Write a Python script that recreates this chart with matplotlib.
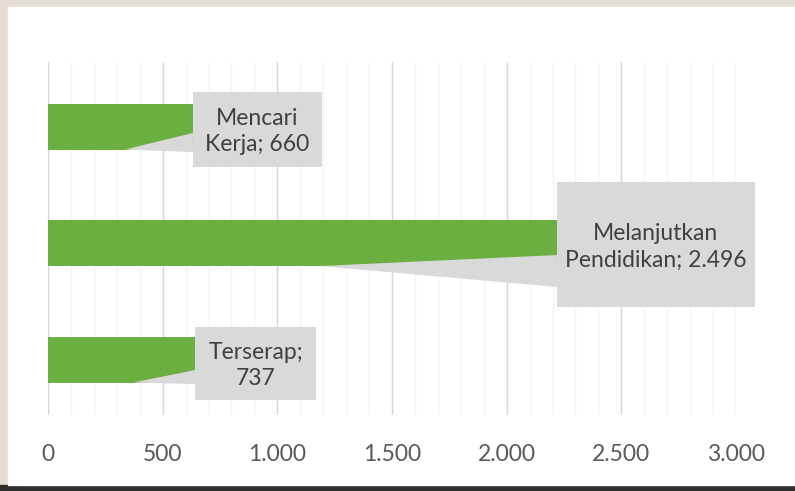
import matplotlib
matplotlib.use("Agg")
import matplotlib.pyplot as plt
from matplotlib.patches import Rectangle, Polygon
from matplotlib.ticker import MultipleLocator, FuncFormatter

# --- data -------------------------------------------------------------
categories = ["Terserap", "Melanjutkan Pendidikan", "Mencari Kerja"]
values = [737, 2496, 660]
label_texts = ["Terserap;\n737", "Melanjutkan\nPendidikan; 2.496", "Mencari\nKerja; 660"]
x_ticks = [0, 500, 1000, 1500, 2000, 2500, 3000]

# callout layout (data coords): box x0, x1, y0, y1 ; wedge tip x ; wedge base y-top, y-bottom
box_x0 = [641, 2219, 632]
box_x1 = [1169, 3083, 1195]
box_y0 = [-0.347, 0.451, 1.653]
box_y1 = [0.279, 1.524, 2.297]
tip_x = [371, 1186, 336]
base_top = [-0.09, 0.897, 1.945]
base_bot = [-0.21, 0.623, 1.781]

BAR = "#6aaf3f"
BOX = "#d9d9d9"
TXT = "#404040"
TICK = "#595959"
FONT = "Lato"

fig = plt.figure(figsize=(7.95, 4.91), dpi=100, facecolor="#e4ddd3")
W, H = 795, 491
# white chart panel + dark bottom strip
fig.patches.append(Rectangle((0, 0), 1, 6 / H, transform=fig.transFigure,
                             color="#2e2e2e", zorder=-2))
fig.patches.append(Rectangle((8 / W, 6 / H), 1 - 8 / W, (H - 13) / H,
                             transform=fig.transFigure, color="white", zorder=-2))

ax = fig.add_axes([48 / W, (H - 415) / H, (736 - 48) / W, (415 - 62) / H])
ax.set_zorder(1)
ax.set_facecolor("none")

ypos = list(range(len(categories)))
bar_h = 0.395
ax.barh(ypos, values, height=bar_h, color=BAR, zorder=2)

ax.set_xlim(0, 3000)
ax.set_ylim(-0.476, 2.554)
ax.xaxis.set_major_locator(MultipleLocator(500))
ax.xaxis.set_minor_locator(MultipleLocator(100))
ax.set_xticks(x_ticks)
ax.xaxis.set_major_formatter(FuncFormatter(lambda v, p: f"{int(v):,}".replace(",", ".")))
ax.grid(axis="x", which="major", color="#d6d6d6", lw=1, zorder=0)
ax.grid(axis="x", which="minor", color="#f3f3f3", lw=1, zorder=0)
ax.set_axisbelow(True)
ax.set_yticks([])
ax.tick_params(axis="x", which="both", length=0, pad=21, labelsize=16.5, labelcolor=TICK)
for lbl in ax.get_xticklabels():
    lbl.set_fontfamily(FONT)
for s in ax.spines.values():
    s.set_visible(False)

for i in ypos:
    ybot = i - bar_h / 2
    ax.add_patch(Polygon([(tip_x[i], ybot), (box_x0[i], base_top[i]), (box_x0[i], base_bot[i])],
                         closed=True, color=BOX, lw=0, zorder=3, clip_on=False))
    ax.add_patch(Rectangle((box_x0[i], box_y0[i]), box_x1[i] - box_x0[i], box_y1[i] - box_y0[i],
                           color=BOX, lw=0, zorder=3, clip_on=False))
    ax.text((box_x0[i] + box_x1[i]) / 2, (box_y0[i] + box_y1[i]) / 2 - 0.02, label_texts[i],
            ha="center", va="center", fontsize=16.5, color=TXT, family=FONT,
            linespacing=1.3, zorder=4)

fig.savefig("out.png", dpi=100, facecolor=fig.get_facecolor())
